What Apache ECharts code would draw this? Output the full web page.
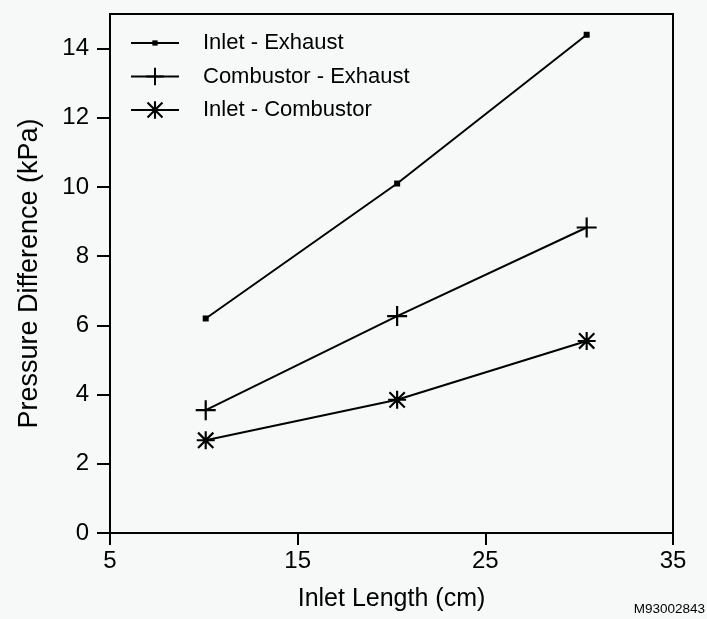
<!DOCTYPE html>
<html>
<head>
<meta charset="utf-8">
<script src="https://cdn.jsdelivr.net/npm/echarts@6/dist/echarts.min.js"></script>
<style>
html,body{margin:0;padding:0;background:#f7f8f8;}
#c{width:707px;height:619px;}
</style>
</head>
<body>
<div id="c"></div>
<script>
// ---- data ----
const inletLength = [10.1, 20.3, 30.4];
const inletExhaust = [6.2, 10.1, 14.4];
const combustorExhaust = [3.55, 6.27, 8.83];
const inletCombustor = [2.68, 3.85, 5.55];
const seriesNames = ['Inlet - Exhaust', 'Combustor - Exhaust', 'Inlet - Combustor'];
const xTicks = [5, 15, 25, 35];
const yTicks = [0, 2, 4, 6, 8, 10, 12, 14];

const FONT = '"Liberation Sans", Arial, Helvetica, sans-serif';

const squareSym = 'path://M0,0 M20,20 M7,7 L13,7 L13,13 L7,13 Z';
const plusSym = 'path://M8.9,0 L11.1,0 L11.1,8.9 L20,8.9 L20,11.1 L11.1,11.1 L11.1,20 L8.9,20 L8.9,11.1 L0,11.1 L0,8.9 L8.9,8.9 Z';
const starSym = 'path://M8.8,0 L11.2,0 L11.2,20 L8.8,20 Z ' +
  'M0,8.8 L20,8.8 L20,11.2 L0,11.2 Z ' +
  'M2.35,0.65 L19.35,17.65 L17.65,19.35 L0.65,2.35 Z ' +
  'M19.35,2.35 L2.35,19.35 L0.65,17.65 L17.65,0.65 Z';

function pairs(ys) { return inletLength.map((x, i) => [x, ys[i]]); }

const chart = echarts.init(document.getElementById('c'), null, {renderer: 'canvas'});
const baseSeries = {
  type: 'line',
  lineStyle: {color: '#000', width: 2},
  itemStyle: {color: '#000'},
  showSymbol: true,
  animation: false,
  z: 3
};
chart.setOption({
  backgroundColor: '#f7f8f8',
  animation: false,
  grid: {left: 110, right: 34, top: 14, bottom: 86, show: true, borderColor: '#000', borderWidth: 2, backgroundColor: 'transparent'},
  legend: {
    orient: 'vertical',
    left: 130, top: 32, padding: 0,
    itemWidth: 48, itemHeight: 22, itemGap: 11.5,
    selectedMode: false,
    data: seriesNames,
    textStyle: {fontFamily: FONT, fontSize: 22, color: '#000', padding: [0, 0, 0, 19], lineHeight: 22}
  },
  xAxis: {
    type: 'value', min: 5, max: 35, interval: 10,
    name: 'Inlet Length (cm)', nameLocation: 'middle', nameGap: 54,
    nameTextStyle: {fontFamily: FONT, fontSize: 25, color: '#000'},
    axisLine: {show: true, lineStyle: {color: '#000', width: 2}},
    axisTick: {show: true, length: 12, inside: false, lineStyle: {color: '#000', width: 2}},
    axisLabel: {fontFamily: FONT, fontSize: 24, color: '#000', margin: 16},
    splitLine: {show: false}
  },
  yAxis: {
    type: 'value', min: 0, max: 15,
    name: 'Pressure Difference (kPa)', nameLocation: 'middle', nameGap: 67,
    nameTextStyle: {fontFamily: FONT, fontSize: 27, color: '#000'},
    axisLine: {show: true, lineStyle: {color: '#000', width: 2}},
    axisTick: {show: true, length: 13, customValues: yTicks, lineStyle: {color: '#000', width: 2}},
    axisLabel: {fontFamily: FONT, fontSize: 24, color: '#000', margin: 21, customValues: yTicks},
    splitLine: {show: false}
  },
  graphic: [{
    type: 'text', right: 2, top: 602,
    style: {text: 'M93002843', font: '13.5px ' + FONT, fill: '#000'}
  }],
  series: [
    Object.assign({}, baseSeries, {name: seriesNames[0], data: pairs(inletExhaust), symbol: squareSym, symbolSize: 20}),
    Object.assign({}, baseSeries, {name: seriesNames[1], data: pairs(combustorExhaust), symbol: plusSym, symbolSize: 20}),
    Object.assign({}, baseSeries, {name: seriesNames[2], data: pairs(inletCombustor), symbol: starSym, symbolSize: 18})
  ]
});
</script>
</body>
</html>
